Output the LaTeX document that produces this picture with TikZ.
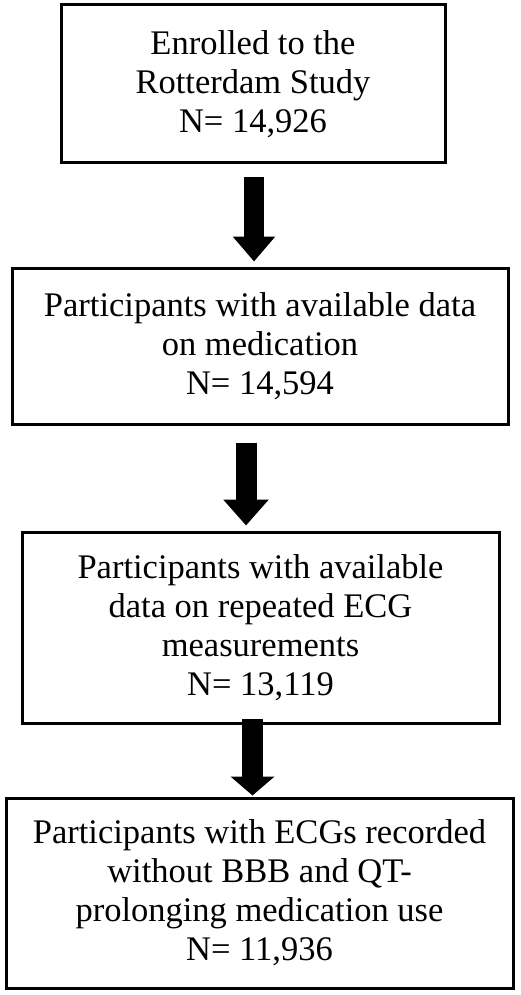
\documentclass[tikz,border=0pt]{standalone}
\usepackage{fontspec}
\setmainfont{Liberation Serif}
\usetikzlibrary{arrows.meta}
\tikzset{
  flowbox/.style={draw=black, line width=3pt, fill=white, align=center,
    inner sep=0pt, font=\fontsize{34.5}{39}\selectfont},
  bigarrow/.style={draw=black, line width=#1, line cap=butt},
}
\begin{document}
\begin{tikzpicture}[x=1pt,y=-1pt]
\useasboundingbox (0,0) rectangle (520,995);
\node[flowbox, minimum width=384pt, minimum height=158pt] (b1) at (253,84)
  {Enrolled to the\\Rotterdam Study\\N= 14,926};
\node[flowbox, minimum width=496pt, minimum height=156pt] (b2) at (260,346)
  {Participants with available data\\on medication\\N= 14,594};
\node[flowbox, minimum width=477pt, minimum height=191pt] (b3) at (260.5,627.5)
  {Participants with available\\data on repeated ECG\\measurements\\N= 13,119};
\node[flowbox, minimum width=507pt, minimum height=190pt] (b4) at (259.5,893)
  {Participants with ECGs recorded\\without BBB and QT-\\prolonging medication use\\N= 11,936};
\draw[bigarrow=20pt, -{Triangle[length=25pt,width=41pt]}]
  ([xshift=1pt,yshift=-13pt]b1.south) -- ([xshift=-6pt,yshift=5pt]b2.north);
\draw[bigarrow=21pt, -{Triangle[length=26pt,width=44pt]}]
  ([xshift=-14pt,yshift=-17pt]b2.south) -- ([xshift=-14.5pt,yshift=5pt]b3.north);
\draw[bigarrow=21pt, -{Triangle[length=19pt,width=43pt]}]
  ([xshift=-8pt,yshift=6pt]b3.south) -- ([xshift=-7pt,yshift=1pt]b4.north);
\end{tikzpicture}
\end{document}
